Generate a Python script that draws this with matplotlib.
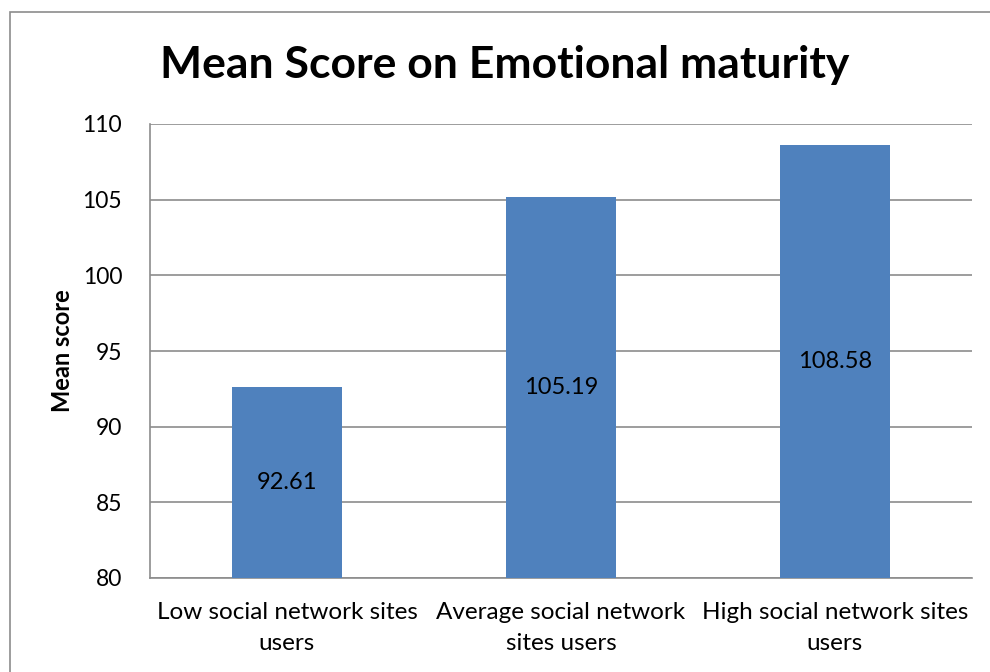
import matplotlib.pyplot as plt
from matplotlib.patches import Rectangle

# Data
categories = ['Low social network sites\nusers',
              'Average social network\nsites users',
              'High social network sites\nusers']
mean_scores = [92.61, 105.19, 108.58]
y_ticks = [80, 85, 90, 95, 100, 105, 110]

plt.rcParams['font.family'] = ['Lato', 'DejaVu Sans']

fig = plt.figure(figsize=(9.9, 6.72), dpi=100)
ax = fig.add_axes([150 / 990, 1 - 578 / 672, (972 - 150) / 990, (578 - 124) / 672])

# Outer chart border (runs off the right and bottom edge)
fig.patches.append(Rectangle((10 / 990, -0.1), 1.2, 1 - 12 / 672 + 0.1,
                             transform=fig.transFigure, fill=False,
                             edgecolor='#8c8c8c', linewidth=1.2))

x = range(len(categories))
bars = ax.bar(x, mean_scores, width=0.4, color='#4F81BD', zorder=3)

for bar, val in zip(bars, mean_scores):
    ax.text(bar.get_x() + bar.get_width() / 2, (80 + val) / 2, f'{val:.2f}',
            ha='center', va='center', fontsize=17, color='black', zorder=4)

ax.set_ylim(80, 110)
ax.set_xlim(-0.5, 2.5)
ax.set_yticks(y_ticks)
ax.set_xticks(list(x))
ax.set_xticklabels(categories, fontsize=17.5, linespacing=1.6)
ax.tick_params(axis='y', labelsize=16.5, length=0, pad=20)
ax.tick_params(axis='x', length=0, pad=17)
ax.yaxis.grid(True, color='#8c8c8c', linewidth=1.2, zorder=0)

for side in ['top', 'right']:
    ax.spines[side].set_visible(False)
for side in ['left', 'bottom']:
    ax.spines[side].set_color('#8c8c8c')
    ax.spines[side].set_linewidth(1.2)

ax.set_ylabel('Mean score', fontsize=17, fontweight='bold', labelpad=6)
fig.text(505 / 990, 1 - 65 / 672, 'Mean Score on Emotional maturity',
         ha='center', va='center', fontsize=32, fontweight='bold')

fig.savefig('out.png', dpi=100)
